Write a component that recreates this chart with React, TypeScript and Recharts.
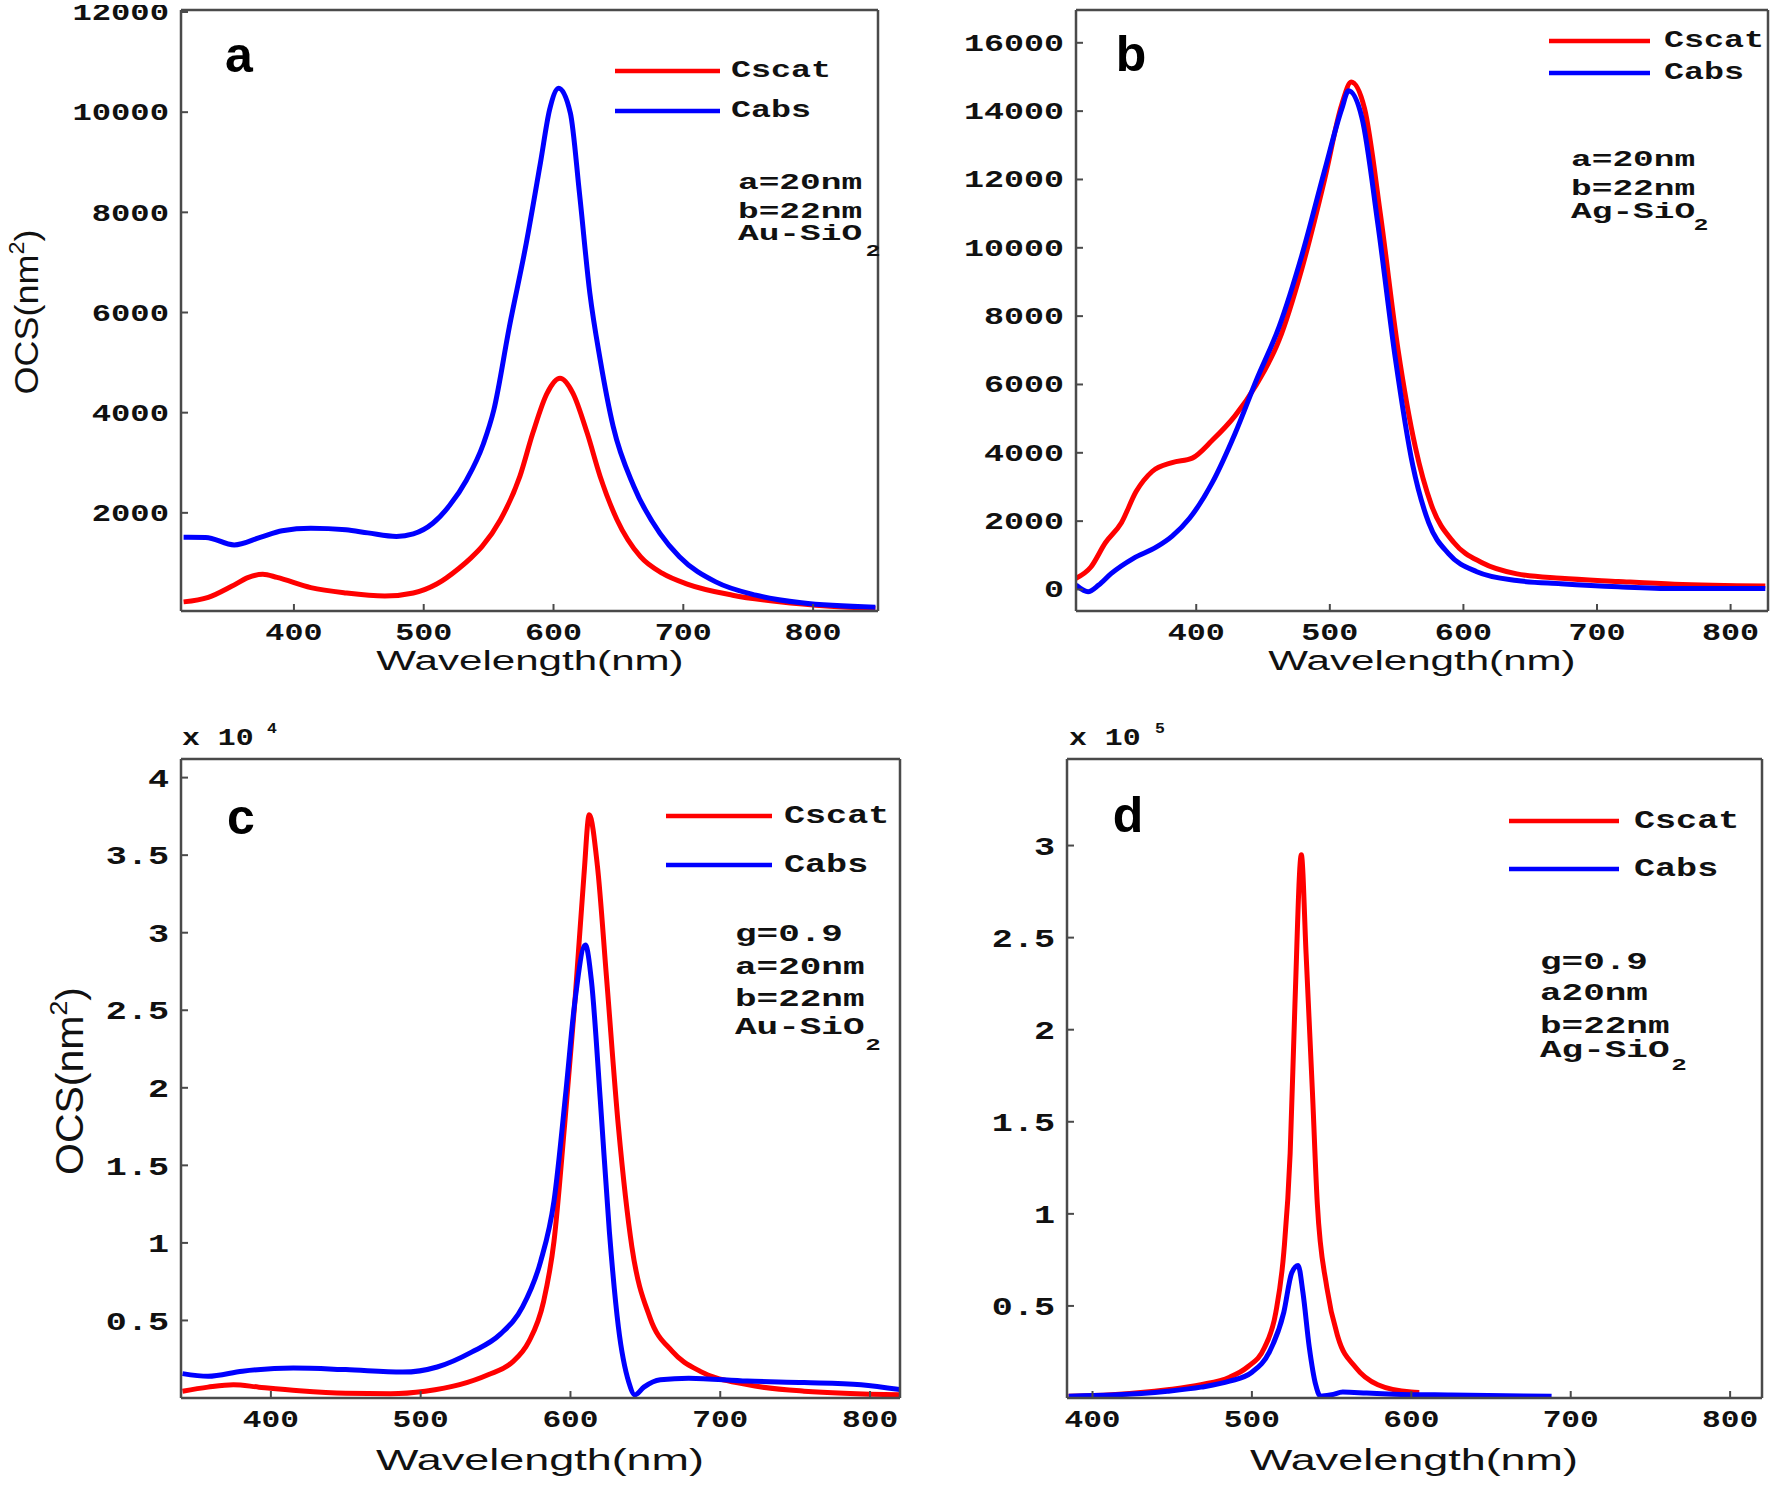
import { LineChart, Line, XAxis, YAxis, Legend } from 'recharts';

const RED = '#ff0000';
const BLUE = '#0000ff';
const FRAME = '#4a4a4a';
const INK = '#111111';
const MONO = '"Liberation Mono", "Courier New", monospace';
const SANS = '"Liberation Sans", Arial, sans-serif';

const X_TICKS = [400, 500, 600, 700, 800];
const SERIES_ORDER = ['Cscat', 'Cabs'];

// (a) Au-SiO2, nm^2
const aScatWl = [315, 334, 352, 365, 376, 387, 413, 440, 470, 492, 510, 527, 536, 545, 559, 574, 584, 595, 605, 615, 626, 636, 649, 667, 684, 703, 738, 774, 813, 848];
const aScat = [222, 311, 533, 711, 773, 711, 507, 400, 338, 400, 578, 889, 1092, 1330, 1857, 2722, 3588, 4387, 4686, 4387, 3588, 2722, 1857, 1124, 790, 578, 356, 222, 133, 89];
const aAbsWl = [315, 332, 354, 374, 391, 413, 440, 457, 479, 492, 507, 520, 533, 546, 554, 566, 579, 590, 597, 604, 613, 620, 628, 636, 646, 662, 682, 697, 725, 756, 791, 848];
const aAbs = [1511, 1510, 1360, 1510, 1644, 1690, 1660, 1600, 1530, 1580, 1791, 2150, 2656, 3380, 4053, 5717, 7382, 9000, 10050, 10477, 9980, 8380, 6384, 5052, 3720, 2522, 1591, 1124, 622, 356, 204, 115];
const aYTicks = [2000, 4000, 6000, 8000, 10000, 12000];

// (b) Ag-SiO2, nm^2
const bScatWl = [310, 321, 332, 344, 355, 367, 382, 397, 412, 429, 445, 462, 479, 496, 509, 516, 526, 538, 551, 564, 576, 593, 614, 640, 673, 716, 758, 826];
const bScat = [326, 651, 1368, 1954, 2866, 3453, 3713, 3844, 4365, 5081, 5993, 7296, 9381, 11987, 14202, 14853, 14072, 10945, 7036, 4169, 2476, 1368, 782, 456, 326, 235, 156, 104];
const bAbsWl = [310, 319, 327, 336, 353, 370, 382, 395, 412, 429, 445, 462, 479, 496, 509, 514, 524, 536, 549, 562, 574, 589, 610, 640, 673, 716, 758, 826];
const bAbs = [130, -65, 130, 456, 912, 1238, 1564, 2085, 3127, 4560, 6124, 7687, 9772, 12248, 14072, 14593, 13811, 10684, 6775, 3648, 1954, 1042, 521, 261, 169, 78, 26, 26];
const bYTicks = [0, 2000, 4000, 6000, 8000, 10000, 12000, 14000, 16000];

// (c) Au-SiO2, g=0.9, x 10^4 nm^2
const cScatWl = [341, 358, 375, 392, 419, 450, 480, 503, 526, 545, 561, 572, 582, 589, 596, 603, 609, 612.5, 618, 624, 632, 641, 653, 668, 687, 718, 756, 820];
const cScat = [0.044, 0.07, 0.086, 0.07, 0.047, 0.031, 0.028, 0.044, 0.086, 0.15, 0.23, 0.36, 0.62, 1.01, 1.75, 2.56, 3.37, 3.76, 3.43, 2.72, 1.75, 0.975, 0.52, 0.3, 0.17, 0.086, 0.044, 0.021];
const cAbsWl = [341, 358, 381, 415, 450, 488, 511, 534, 553, 568, 580, 589, 597, 603, 610, 614, 620, 626, 632, 639, 643, 649, 660, 679, 718, 756, 794, 820];
const cAbs = [0.157, 0.14, 0.173, 0.193, 0.183, 0.167, 0.2, 0.296, 0.41, 0.587, 0.878, 1.27, 1.98, 2.56, 2.92, 2.69, 1.91, 1.07, 0.458, 0.1, 0.02, 0.07, 0.118, 0.128, 0.109, 0.1, 0.086, 0.054];
const cYTicks = [0.5, 1, 1.5, 2, 2.5, 3, 3.5, 4];

// (d) Ag-SiO2, g=0.9, x 10^5 nm^2
const dScatWl = [385, 412, 447, 468, 486, 497, 508, 515, 520, 524, 527, 531, 534, 538, 541, 547, 554, 565, 579, 600, 605];
const dScat = [0.01, 0.018, 0.045, 0.072, 0.113, 0.167, 0.275, 0.465, 0.79, 1.33, 2.14, 2.95, 2.41, 1.655, 1.06, 0.6, 0.33, 0.167, 0.072, 0.032, 0.03];
const dAbsWl = [385, 412, 447, 468, 486, 500, 511, 520, 525, 529, 532, 536, 540, 543, 550, 557, 572, 589, 625, 688];
const dAbs = [0.01, 0.016, 0.037, 0.059, 0.091, 0.14, 0.25, 0.465, 0.68, 0.72, 0.573, 0.275, 0.072, 0.01, 0.018, 0.032, 0.027, 0.021, 0.016, 0.01];
const dYTicks = [0.5, 1, 1.5, 2, 2.5, 3];

const toPoints = (wl: number[], v: number[]) => wl.map((w, i) => ({ wl: w, v: v[i] }));

type Panel = {
  id: string;
  L: number;
  T: number;
  R: number;
  B: number;
  xDomain: [number, number];
  yDomain: [number, number];
  yTicks: number[];
  scat: { wl: number; v: number }[];
  abs: { wl: number; v: number }[];
  yFs: number;
  ySx: number;
  xFs: number;
  xSx: number;
  legend: { x: number; y: number; len: number; gap: number; dx: number; fs: number; sx: number };
};

const PANELS: Panel[] = [
  {
    id: 'a', L: 181, T: 10, R: 878, B: 611,
    xDomain: [313, 850], yDomain: [40, 12040], yTicks: aYTicks,
    scat: toPoints(aScatWl, aScat), abs: toPoints(aAbsWl, aAbs),
    yFs: 23, ySx: 1.4, xFs: 23, xSx: 1.38,
    legend: { x: 615, y: 71, len: 105, gap: 40, dx: 116, fs: 24, sx: 1.39 },
  },
  {
    id: 'b', L: 1076, T: 10, R: 1768, B: 611,
    xDomain: [310, 828], yDomain: [-630, 16960], yTicks: bYTicks,
    scat: toPoints(bScatWl, bScat), abs: toPoints(bAbsWl, bAbs),
    yFs: 23, ySx: 1.45, xFs: 23, xSx: 1.38,
    legend: { x: 1549, y: 41, len: 101, gap: 32, dx: 115, fs: 24, sx: 1.39 },
  },
  {
    id: 'c', L: 181, T: 759, R: 900, B: 1398,
    xDomain: [340, 820], yDomain: [0, 4.12], yTicks: cYTicks,
    scat: toPoints(cScatWl, cScat), abs: toPoints(cAbsWl, cAbs),
    yFs: 26, ySx: 1.35, xFs: 24, xSx: 1.3,
    legend: { x: 666, y: 816, len: 106, gap: 49, dx: 118, fs: 26, sx: 1.35 },
  },
  {
    id: 'd', L: 1067, T: 759, R: 1762, B: 1398,
    xDomain: [384, 820], yDomain: [0, 3.47], yTicks: dYTicks,
    scat: toPoints(dScatWl, dScat), abs: toPoints(dAbsWl, dAbs),
    yFs: 26, ySx: 1.35, xFs: 24, xSx: 1.3,
    legend: { x: 1509, y: 821, len: 110, gap: 48, dx: 125, fs: 26, sx: 1.35 },
  },
];

const YW = 120; // left axis band
const XH = 60; // bottom axis band
const MT = 4;
const MR = 2;

function Stretched({ x, y, fs, sx, anchor, family = MONO, weight = 'bold', children }: any) {
  return (
    <g transform={`translate(${x},${y})`}>
      <text
        transform={`scale(${sx},1)`}
        textAnchor={anchor}
        dominantBaseline="central"
        fontFamily={family}
        fontWeight={weight}
        fontSize={fs}
        fill={INK}
      >
        {children}
      </text>
    </g>
  );
}

function PanelChart({ p }: { p: Panel }) {
  const plotW = p.R - p.L;
  const plotH = p.B - p.T;
  const left = p.L - YW;
  const top = p.T - MT - 1;
  const width = YW + plotW + 1 + MR;
  const height = MT + 1 + plotH + XH;
  const axisY = MT + 1 + plotH;
  const lg = p.legend;

  const xTick = (t: any) => (
    <Stretched x={t.x} y={axisY + 23} fs={p.xFs} sx={p.xSx} anchor="middle">
      {t.payload.value}
    </Stretched>
  );
  const yTick = (t: any) => (
    <Stretched x={YW - 12} y={t.y + 2} fs={p.yFs} sx={p.ySx} anchor="end">
      {t.payload.value}
    </Stretched>
  );

  const legendContent = (props: any) => {
    const items = [...(props.payload || [])].sort(
      (m: any, n: any) => SERIES_ORDER.indexOf(m.value) - SERIES_ORDER.indexOf(n.value),
    );
    return (
      <svg width={lg.len + 180} height={lg.gap + 40} style={{ overflow: 'visible', display: 'block' }}>
        {items.map((e: any, i: number) => (
          <g key={e.value}>
            <line x1={0} x2={lg.len} y1={20 + i * lg.gap} y2={20 + i * lg.gap} stroke={e.color} strokeWidth={4.5} />
            <Stretched x={lg.dx} y={20 + i * lg.gap} fs={lg.fs} sx={lg.sx} anchor="start">
              {e.value}
            </Stretched>
          </g>
        ))}
      </svg>
    );
  };

  const axisCommon = {
    axisLine: { stroke: FRAME, strokeWidth: 2.5 },
    tickLine: { stroke: FRAME, strokeWidth: 2 },
    tickSize: -7,
    tickMargin: 0,
    interval: 0 as const,
    allowDataOverflow: true,
  };

  return (
    <div style={{ position: 'absolute', left, top }}>
      <LineChart width={width} height={height} margin={{ top: MT, right: MR, bottom: 0, left: 0 }}>
        <XAxis
          xAxisId="b"
          type="number"
          dataKey="wl"
          domain={p.xDomain}
          ticks={X_TICKS}
          height={XH}
          tick={xTick}
          {...axisCommon}
        />
        <XAxis
          xAxisId="t"
          orientation="top"
          type="number"
          dataKey="wl"
          domain={p.xDomain}
          ticks={X_TICKS}
          height={1}
          tick={false}
          {...axisCommon}
        />
        <YAxis
          yAxisId="l"
          type="number"
          domain={p.yDomain}
          ticks={p.yTicks}
          width={YW}
          tick={yTick}
          {...axisCommon}
        />
        <YAxis
          yAxisId="r"
          orientation="right"
          type="number"
          domain={p.yDomain}
          ticks={p.yTicks}
          width={1}
          tick={false}
          {...axisCommon}
        />
        <Line
          data={p.scat}
          dataKey="v"
          name="Cscat"
          xAxisId="b"
          yAxisId="l"
          type="monotone"
          stroke={RED}
          strokeWidth={5}
          dot={false}
          activeDot={false}
          isAnimationActive={false}
        />
        <Line
          data={p.abs}
          dataKey="v"
          name="Cabs"
          xAxisId="b"
          yAxisId="l"
          type="monotone"
          stroke={BLUE}
          strokeWidth={5}
          dot={false}
          activeDot={false}
          isAnimationActive={false}
        />
        <Legend
          layout="vertical"
          align="center"
          verticalAlign="middle"
          content={legendContent}
          wrapperStyle={{ left: lg.x - left, top: lg.y - 20 - top, width: lg.len + 180 }}
        />
      </LineChart>
    </div>
  );
}

function OcsLabel({ x, y, fs, sx }: { x: number; y: number; fs: number; sx: number }) {
  return (
    <g transform={`translate(${x},${y}) rotate(-90)`}>
      <text transform={`scale(${sx},1)`} textAnchor="middle" fontFamily={SANS} fontSize={fs} fill={INK}>
        OCS(nm
        <tspan dy={-fs * 0.42} fontSize={fs * 0.65}>2</tspan>
        <tspan dy={fs * 0.42}>)</tspan>
      </text>
    </g>
  );
}

function Note({ x, y, lines, sub, fs, sx }: any) {
  return (
    <g>
      {lines.map((t: string, i: number) => (
        <Stretched key={t} x={x} y={y[i]} fs={fs} sx={sx} anchor="start">
          {t}
        </Stretched>
      ))}
      <Stretched x={sub[0]} y={sub[1]} fs={fs * 0.72} sx={sx} anchor="middle">
        2
      </Stretched>
    </g>
  );
}

export default function App() {
  return (
    <div
      style={{
        position: 'absolute',
        left: 0,
        top: 0,
        width: 1771,
        height: 1486,
        overflow: 'hidden',
        background: '#ffffff',
      }}
    >
      {PANELS.map((p) => (
        <PanelChart key={p.id} p={p} />
      ))}

      <svg width={1771} height={1486} style={{ position: 'absolute', left: 0, top: 0, pointerEvents: 'none' }}>
        {/* panel letters */}
        {[
          ['a', 239, 72],
          ['b', 1131, 71],
          ['c', 241, 834],
          ['d', 1128, 832],
        ].map(([t, x, y]) => (
          <text
            key={t as string}
            x={x as number}
            y={y as number}
            textAnchor="middle"
            fontFamily={SANS}
            fontWeight="bold"
            fontSize={50}
            fill="#000"
          >
            {t}
          </text>
        ))}

        {/* axis titles */}
        {[
          [530, 670, 27, 1.56],
          [1422, 670, 27, 1.56],
          [540, 1470, 29, 1.55],
          [1414, 1470, 29, 1.55],
        ].map(([x, y, fs, sx], i) => (
          <g key={i} transform={`translate(${x},${y})`}>
            <text transform={`scale(${sx},1)`} textAnchor="middle" fontFamily={SANS} fontSize={fs} fill={INK}>
              Wavelength(nm)
            </text>
          </g>
        ))}
        <OcsLabel x={38} y={312} fs={33} sx={1.09} />
        <OcsLabel x={83} y={1081} fs={38} sx={1.08} />

        {/* exponent labels */}
        <Stretched x={182} y={739} fs={23} sx={1.3} anchor="start">x 10</Stretched>
        <Stretched x={272} y={729} fs={15} sx={1.1} anchor="middle">4</Stretched>
        <Stretched x={1069} y={739} fs={23} sx={1.3} anchor="start">x 10</Stretched>
        <Stretched x={1160} y={729} fs={15} sx={1.1} anchor="middle">5</Stretched>

        {/* parameter notes */}
        <Note x={738} y={[183, 212, 234]} lines={['a=20nm', 'b=22nm', 'Au-SiO']} sub={[873, 251]} fs={23} sx={1.5} />
        <Note x={1571} y={[160, 189, 212]} lines={['a=20nm', 'b=22nm', 'Ag-SiO']} sub={[1701, 225]} fs={23} sx={1.5} />
        <Note
          x={735}
          y={[935, 968, 1000, 1028]}
          lines={['g=0.9', 'a=20nm', 'b=22nm', 'Au-SiO']}
          sub={[873, 1046]}
          fs={24}
          sx={1.5}
        />
        <Note
          x={1540}
          y={[963, 994, 1027, 1051]}
          lines={['g=0.9', 'a20nm', 'b=22nm', 'Ag-SiO']}
          sub={[1679, 1066]}
          fs={24}
          sx={1.5}
        />
      </svg>
    </div>
  );
}
